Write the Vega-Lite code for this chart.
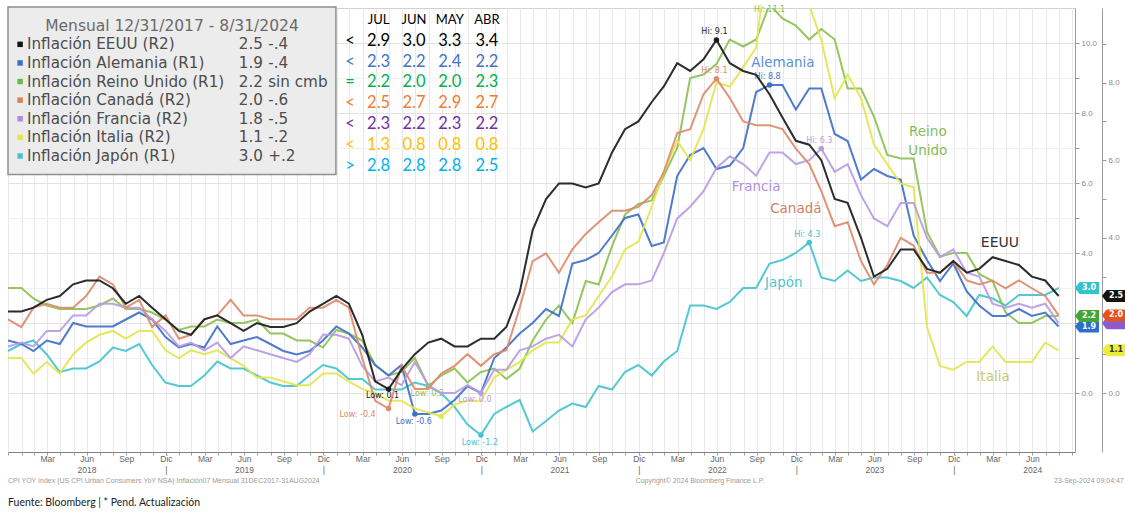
{
  "$schema": "https://vega.github.io/schema/vega-lite/v6.json",
  "width": 1067,
  "height": 444,
  "autosize": {"type": "none"},
  "padding": {"left": 8, "top": 8, "right": 50, "bottom": 62},
  "background": "#ffffff",
  "config": {"view": {"stroke": "#d0d0d0"}, "font": "DejaVu Sans"},
  "datasets": {
    "serie": [
      {"fecha":"2017-12-31","EEUU":2.1,"Alemania":1.5,"Reino Unido":3.0,"Canadá":1.9,"Francia":1.2,"Italia":0.9,"Japón":1.2},
      {"fecha":"2018-01-31","EEUU":2.1,"Alemania":1.4,"Reino Unido":3.0,"Canadá":1.7,"Francia":1.3,"Italia":0.9,"Japón":1.4},
      {"fecha":"2018-02-28","EEUU":2.2,"Alemania":1.2,"Reino Unido":2.7,"Canadá":2.2,"Francia":1.2,"Italia":0.5,"Japón":1.5},
      {"fecha":"2018-03-31","EEUU":2.4,"Alemania":1.5,"Reino Unido":2.5,"Canadá":2.3,"Francia":1.6,"Italia":0.8,"Japón":1.1},
      {"fecha":"2018-04-30","EEUU":2.5,"Alemania":1.4,"Reino Unido":2.4,"Canadá":2.2,"Francia":1.6,"Italia":0.5,"Japón":0.6},
      {"fecha":"2018-05-31","EEUU":2.8,"Alemania":2.0,"Reino Unido":2.4,"Canadá":2.2,"Francia":2.0,"Italia":1.0,"Japón":0.7},
      {"fecha":"2018-06-30","EEUU":2.9,"Alemania":1.9,"Reino Unido":2.4,"Canadá":2.5,"Francia":2.0,"Italia":1.3,"Japón":0.7},
      {"fecha":"2018-07-31","EEUU":2.9,"Alemania":1.9,"Reino Unido":2.5,"Canadá":3.0,"Francia":2.3,"Italia":1.5,"Japón":0.9},
      {"fecha":"2018-08-31","EEUU":2.7,"Alemania":1.9,"Reino Unido":2.7,"Canadá":2.8,"Francia":2.3,"Italia":1.6,"Japón":1.3},
      {"fecha":"2018-09-30","EEUU":2.3,"Alemania":2.1,"Reino Unido":2.4,"Canadá":2.2,"Francia":2.2,"Italia":1.4,"Japón":1.2},
      {"fecha":"2018-10-31","EEUU":2.5,"Alemania":2.3,"Reino Unido":2.4,"Canadá":2.4,"Francia":2.2,"Italia":1.6,"Japón":1.4},
      {"fecha":"2018-11-30","EEUU":2.2,"Alemania":2.1,"Reino Unido":2.3,"Canadá":1.7,"Francia":1.9,"Italia":1.6,"Japón":0.8},
      {"fecha":"2018-12-31","EEUU":1.9,"Alemania":1.6,"Reino Unido":2.1,"Canadá":2.0,"Francia":1.6,"Italia":1.1,"Japón":0.3},
      {"fecha":"2019-01-31","EEUU":1.6,"Alemania":1.3,"Reino Unido":1.8,"Canadá":1.4,"Francia":1.2,"Italia":0.9,"Japón":0.2},
      {"fecha":"2019-02-28","EEUU":1.5,"Alemania":1.4,"Reino Unido":1.9,"Canadá":1.5,"Francia":1.3,"Italia":1.1,"Japón":0.2},
      {"fecha":"2019-03-31","EEUU":1.9,"Alemania":1.3,"Reino Unido":1.9,"Canadá":1.9,"Francia":1.1,"Italia":1.0,"Japón":0.5},
      {"fecha":"2019-04-30","EEUU":2.0,"Alemania":1.9,"Reino Unido":2.1,"Canadá":2.0,"Francia":1.3,"Italia":1.1,"Japón":0.9},
      {"fecha":"2019-05-31","EEUU":1.8,"Alemania":1.4,"Reino Unido":2.0,"Canadá":2.4,"Francia":0.9,"Italia":0.9,"Japón":0.7},
      {"fecha":"2019-06-30","EEUU":1.6,"Alemania":1.5,"Reino Unido":2.0,"Canadá":2.0,"Francia":1.2,"Italia":0.7,"Japón":0.7},
      {"fecha":"2019-07-31","EEUU":1.8,"Alemania":1.6,"Reino Unido":2.1,"Canadá":2.0,"Francia":1.1,"Italia":0.4,"Japón":0.5},
      {"fecha":"2019-08-31","EEUU":1.7,"Alemania":1.4,"Reino Unido":1.7,"Canadá":1.9,"Francia":1.0,"Italia":0.4,"Japón":0.3},
      {"fecha":"2019-09-30","EEUU":1.7,"Alemania":1.2,"Reino Unido":1.7,"Canadá":1.9,"Francia":0.9,"Italia":0.3,"Japón":0.2},
      {"fecha":"2019-10-31","EEUU":1.8,"Alemania":1.1,"Reino Unido":1.5,"Canadá":1.9,"Francia":0.8,"Italia":0.2,"Japón":0.2},
      {"fecha":"2019-11-30","EEUU":2.1,"Alemania":1.2,"Reino Unido":1.5,"Canadá":2.2,"Francia":1.0,"Italia":0.2,"Japón":0.5},
      {"fecha":"2019-12-31","EEUU":2.3,"Alemania":1.5,"Reino Unido":1.3,"Canadá":2.2,"Francia":1.5,"Italia":0.5,"Japón":0.8},
      {"fecha":"2020-01-31","EEUU":2.5,"Alemania":1.9,"Reino Unido":1.8,"Canadá":2.4,"Francia":1.5,"Italia":0.5,"Japón":0.7},
      {"fecha":"2020-02-29","EEUU":2.3,"Alemania":1.7,"Reino Unido":1.7,"Canadá":2.2,"Francia":1.4,"Italia":0.3,"Japón":0.4},
      {"fecha":"2020-03-31","EEUU":1.5,"Alemania":1.3,"Reino Unido":1.5,"Canadá":0.9,"Francia":0.7,"Italia":0.1,"Japón":0.4},
      {"fecha":"2020-04-30","EEUU":0.3,"Alemania":0.8,"Reino Unido":0.8,"Canadá":-0.2,"Francia":0.3,"Italia":0.0,"Japón":0.1},
      {"fecha":"2020-05-31","EEUU":0.1,"Alemania":0.5,"Reino Unido":0.5,"Canadá":-0.4,"Francia":0.4,"Italia":-0.2,"Japón":0.1},
      {"fecha":"2020-06-30","EEUU":0.6,"Alemania":0.8,"Reino Unido":0.6,"Canadá":0.7,"Francia":0.2,"Italia":-0.2,"Japón":0.1},
      {"fecha":"2020-07-31","EEUU":1.0,"Alemania":-0.6,"Reino Unido":1.0,"Canadá":0.1,"Francia":0.8,"Italia":-0.4,"Japón":0.3},
      {"fecha":"2020-08-31","EEUU":1.3,"Alemania":-0.6,"Reino Unido":0.2,"Canadá":0.1,"Francia":0.2,"Italia":-0.5,"Japón":0.2},
      {"fecha":"2020-09-30","EEUU":1.4,"Alemania":-0.5,"Reino Unido":0.5,"Canadá":0.5,"Francia":0.0,"Italia":-0.6,"Japón":0.0},
      {"fecha":"2020-10-31","EEUU":1.2,"Alemania":-0.2,"Reino Unido":0.7,"Canadá":0.7,"Francia":0.0,"Italia":-0.3,"Japón":-0.4},
      {"fecha":"2020-11-30","EEUU":1.2,"Alemania":0.2,"Reino Unido":0.3,"Canadá":1.0,"Francia":0.2,"Italia":-0.2,"Japón":-0.9},
      {"fecha":"2020-12-31","EEUU":1.4,"Alemania":0.0,"Reino Unido":0.6,"Canadá":0.7,"Francia":0.0,"Italia":-0.2,"Japón":-1.2},
      {"fecha":"2021-01-31","EEUU":1.4,"Alemania":1.0,"Reino Unido":0.7,"Canadá":1.0,"Francia":0.6,"Italia":0.4,"Japón":-0.6},
      {"fecha":"2021-02-28","EEUU":1.7,"Alemania":1.3,"Reino Unido":0.4,"Canadá":1.1,"Francia":0.6,"Italia":0.6,"Japón":-0.4},
      {"fecha":"2021-03-31","EEUU":2.6,"Alemania":1.7,"Reino Unido":0.7,"Canadá":2.2,"Francia":1.1,"Italia":0.8,"Japón":-0.2},
      {"fecha":"2021-04-30","EEUU":4.2,"Alemania":2.0,"Reino Unido":1.5,"Canadá":3.4,"Francia":1.2,"Italia":1.1,"Japón":-1.1},
      {"fecha":"2021-05-31","EEUU":5.0,"Alemania":2.4,"Reino Unido":2.1,"Canadá":3.6,"Francia":1.4,"Italia":1.3,"Japón":-0.8},
      {"fecha":"2021-06-30","EEUU":5.4,"Alemania":2.2,"Reino Unido":2.5,"Canadá":3.1,"Francia":1.5,"Italia":1.3,"Japón":-0.5},
      {"fecha":"2021-07-31","EEUU":5.4,"Alemania":3.7,"Reino Unido":2.0,"Canadá":3.7,"Francia":1.2,"Italia":1.9,"Japón":-0.3},
      {"fecha":"2021-08-31","EEUU":5.3,"Alemania":3.8,"Reino Unido":3.2,"Canadá":4.1,"Francia":1.9,"Italia":2.0,"Japón":-0.4},
      {"fecha":"2021-09-30","EEUU":5.4,"Alemania":4.0,"Reino Unido":3.1,"Canadá":4.4,"Francia":2.2,"Italia":2.5,"Japón":0.2},
      {"fecha":"2021-10-31","EEUU":6.2,"Alemania":4.5,"Reino Unido":4.2,"Canadá":4.7,"Francia":2.6,"Italia":3.0,"Japón":0.1},
      {"fecha":"2021-11-30","EEUU":6.8,"Alemania":5.0,"Reino Unido":5.1,"Canadá":4.7,"Francia":2.8,"Italia":3.7,"Japón":0.6},
      {"fecha":"2021-12-31","EEUU":7.0,"Alemania":5.1,"Reino Unido":5.4,"Canadá":4.8,"Francia":2.8,"Italia":3.9,"Japón":0.8},
      {"fecha":"2022-01-31","EEUU":7.5,"Alemania":4.2,"Reino Unido":5.5,"Canadá":5.1,"Francia":2.9,"Italia":4.8,"Japón":0.5},
      {"fecha":"2022-02-28","EEUU":7.9,"Alemania":4.3,"Reino Unido":6.2,"Canadá":5.7,"Francia":3.6,"Italia":5.7,"Japón":0.9},
      {"fecha":"2022-03-31","EEUU":8.5,"Alemania":6.2,"Reino Unido":7.0,"Canadá":6.7,"Francia":4.5,"Italia":6.5,"Japón":1.2},
      {"fecha":"2022-04-30","EEUU":8.3,"Alemania":6.8,"Reino Unido":9.0,"Canadá":6.8,"Francia":4.8,"Italia":6.0,"Japón":2.5},
      {"fecha":"2022-05-31","EEUU":8.6,"Alemania":7.0,"Reino Unido":9.1,"Canadá":7.7,"Francia":5.2,"Italia":6.8,"Japón":2.5},
      {"fecha":"2022-06-30","EEUU":9.1,"Alemania":6.4,"Reino Unido":9.4,"Canadá":8.1,"Francia":5.8,"Italia":8.0,"Japón":2.4},
      {"fecha":"2022-07-31","EEUU":8.5,"Alemania":6.5,"Reino Unido":10.1,"Canadá":7.6,"Francia":6.1,"Italia":7.9,"Japón":2.6},
      {"fecha":"2022-08-31","EEUU":8.3,"Alemania":7.0,"Reino Unido":9.9,"Canadá":7.0,"Francia":5.9,"Italia":8.4,"Japón":3.0},
      {"fecha":"2022-09-30","EEUU":8.2,"Alemania":8.6,"Reino Unido":10.1,"Canadá":6.9,"Francia":5.6,"Italia":8.9,"Japón":3.0},
      {"fecha":"2022-10-31","EEUU":7.7,"Alemania":8.8,"Reino Unido":11.1,"Canadá":6.9,"Francia":6.2,"Italia":11.8,"Japón":3.7},
      {"fecha":"2022-11-30","EEUU":7.1,"Alemania":8.8,"Reino Unido":10.7,"Canadá":6.8,"Francia":6.2,"Italia":11.8,"Japón":3.8},
      {"fecha":"2022-12-31","EEUU":6.5,"Alemania":8.1,"Reino Unido":10.5,"Canadá":6.3,"Francia":5.9,"Italia":11.6,"Japón":4.0},
      {"fecha":"2023-01-31","EEUU":6.4,"Alemania":8.7,"Reino Unido":10.1,"Canadá":5.9,"Francia":6.0,"Italia":10.0,"Japón":4.3},
      {"fecha":"2023-02-28","EEUU":6.0,"Alemania":8.7,"Reino Unido":10.4,"Canadá":5.2,"Francia":6.3,"Italia":9.1,"Japón":3.3},
      {"fecha":"2023-03-31","EEUU":5.0,"Alemania":7.4,"Reino Unido":10.1,"Canadá":4.3,"Francia":5.7,"Italia":7.6,"Japón":3.2},
      {"fecha":"2023-04-30","EEUU":4.9,"Alemania":7.2,"Reino Unido":8.7,"Canadá":4.4,"Francia":5.9,"Italia":8.2,"Japón":3.5},
      {"fecha":"2023-05-31","EEUU":4.0,"Alemania":6.1,"Reino Unido":8.7,"Canadá":3.4,"Francia":5.1,"Italia":7.6,"Japón":3.2},
      {"fecha":"2023-06-30","EEUU":3.0,"Alemania":6.4,"Reino Unido":7.9,"Canadá":2.8,"Francia":4.5,"Italia":6.4,"Japón":3.3},
      {"fecha":"2023-07-31","EEUU":3.2,"Alemania":6.2,"Reino Unido":6.8,"Canadá":3.3,"Francia":4.3,"Italia":5.9,"Japón":3.3},
      {"fecha":"2023-08-31","EEUU":3.7,"Alemania":6.1,"Reino Unido":6.7,"Canadá":4.0,"Francia":4.9,"Italia":5.4,"Japón":3.2},
      {"fecha":"2023-09-30","EEUU":3.7,"Alemania":4.5,"Reino Unido":6.7,"Canadá":3.8,"Francia":4.9,"Italia":5.3,"Japón":3.0},
      {"fecha":"2023-10-31","EEUU":3.2,"Alemania":3.8,"Reino Unido":4.6,"Canadá":3.1,"Francia":4.0,"Italia":1.7,"Japón":3.3},
      {"fecha":"2023-11-30","EEUU":3.1,"Alemania":3.2,"Reino Unido":3.9,"Canadá":3.1,"Francia":3.5,"Italia":0.7,"Japón":2.8},
      {"fecha":"2023-12-31","EEUU":3.4,"Alemania":3.7,"Reino Unido":4.0,"Canadá":3.4,"Francia":3.7,"Italia":0.6,"Japón":2.6},
      {"fecha":"2024-01-31","EEUU":3.1,"Alemania":2.9,"Reino Unido":4.0,"Canadá":2.9,"Francia":3.1,"Italia":0.8,"Japón":2.2},
      {"fecha":"2024-02-29","EEUU":3.2,"Alemania":2.5,"Reino Unido":3.4,"Canadá":2.8,"Francia":3.0,"Italia":0.8,"Japón":2.8},
      {"fecha":"2024-03-31","EEUU":3.5,"Alemania":2.2,"Reino Unido":3.2,"Canadá":2.9,"Francia":2.3,"Italia":1.2,"Japón":2.7},
      {"fecha":"2024-04-30","EEUU":3.4,"Alemania":2.2,"Reino Unido":2.3,"Canadá":2.7,"Francia":2.2,"Italia":0.8,"Japón":2.5},
      {"fecha":"2024-05-31","EEUU":3.3,"Alemania":2.4,"Reino Unido":2.0,"Canadá":2.9,"Francia":2.3,"Italia":0.8,"Japón":2.8},
      {"fecha":"2024-06-30","EEUU":3.0,"Alemania":2.2,"Reino Unido":2.0,"Canadá":2.7,"Francia":2.2,"Italia":0.8,"Japón":2.8},
      {"fecha":"2024-07-31","EEUU":2.9,"Alemania":2.3,"Reino Unido":2.2,"Canadá":2.5,"Francia":2.3,"Italia":1.3,"Japón":2.8},
      {"fecha":"2024-08-31","EEUU":2.5,"Alemania":1.9,"Reino Unido":2.2,"Canadá":2.0,"Francia":1.8,"Italia":1.1,"Japón":3.0}
    ],
    "extremos": [
      {"serie":"EEUU","eje":"R2","tipo":"hi","fecha":"2022-06-30","v":9.1,"etiqueta":"Hi: 9.1"},
      {"serie":"Canadá","eje":"R2","tipo":"hi","fecha":"2022-06-30","v":8.1,"etiqueta":"Hi: 8.1"},
      {"serie":"Francia","eje":"R2","tipo":"hi","fecha":"2023-02-28","v":6.3,"etiqueta":"Hi: 6.3"},
      {"serie":"Alemania","eje":"R1","tipo":"hi","fecha":"2022-10-31","v":8.8,"etiqueta":"Hi: 8.8"},
      {"serie":"Reino Unido","eje":"R1","tipo":"hi","fecha":"2022-10-31","v":11.1,"etiqueta":"Hi: 11.1"},
      {"serie":"Japón","eje":"R1","tipo":"hi","fecha":"2023-01-31","v":4.3,"etiqueta":"Hi: 4.3"},
      {"serie":"EEUU","eje":"R2","tipo":"low","fecha":"2020-05-31","v":0.1,"etiqueta":"Low: 0.1"},
      {"serie":"Canadá","eje":"R2","tipo":"low","fecha":"2020-05-31","v":-0.4,"etiqueta":"Low: -0.4"},
      {"serie":"Francia","eje":"R2","tipo":"low","fecha":"2020-12-31","v":0.0,"etiqueta":"Low: 0.0"},
      {"serie":"Italia","eje":"R2","tipo":"low","fecha":"2020-09-30","v":-0.6,"etiqueta":"Low: -0.6"},
      {"serie":"Alemania","eje":"R1","tipo":"low","fecha":"2020-07-31","v":-0.6,"etiqueta":"Low: -0.6"},
      {"serie":"Reino Unido","eje":"R1","tipo":"low","fecha":"2020-08-31","v":0.2,"etiqueta":"Low: 0.2"},
      {"serie":"Japón","eje":"R1","tipo":"low","fecha":"2020-12-31","v":-1.2,"etiqueta":"Low: -1.2"}
    ],
    "leyenda": [
      {"serie":"EEUU","etiqueta":"Inflación EEUU (R2)","ultimo":2.5,"cambio":"-.4","eje":"R2"},
      {"serie":"Alemania","etiqueta":"Inflación Alemania (R1)","ultimo":1.9,"cambio":"-.4","eje":"R1"},
      {"serie":"Reino Unido","etiqueta":"Inflación Reino Unido (R1)","ultimo":2.2,"cambio":"sin cmb","eje":"R1"},
      {"serie":"Canadá","etiqueta":"Inflación Canadá (R2)","ultimo":2.0,"cambio":"-.6","eje":"R2"},
      {"serie":"Francia","etiqueta":"Inflación Francia (R2)","ultimo":1.8,"cambio":"-.5","eje":"R2"},
      {"serie":"Italia","etiqueta":"Inflación Italia (R2)","ultimo":1.1,"cambio":"-.2","eje":"R2"},
      {"serie":"Japón","etiqueta":"Inflación Japón (R1)","ultimo":3.0,"cambio":"+.2","eje":"R1"}
    ],
    "tabla": [
      {"serie":"hdr","sim":"","jul":"JUL","jun":"JUN","may":"MAY","abr":"ABR"},
      {"serie":"EEUU","sim":"<","jul":"2.9","jun":"3.0","may":"3.3","abr":"3.4"},
      {"serie":"Alemania","sim":"<","jul":"2.3","jun":"2.2","may":"2.4","abr":"2.2"},
      {"serie":"Reino Unido","sim":"=","jul":"2.2","jun":"2.0","may":"2.0","abr":"2.3"},
      {"serie":"Canadá","sim":"<","jul":"2.5","jun":"2.7","may":"2.9","abr":"2.7"},
      {"serie":"Francia","sim":"<","jul":"2.3","jun":"2.2","may":"2.3","abr":"2.2"},
      {"serie":"Italia","sim":"<","jul":"1.3","jun":"0.8","may":"0.8","abr":"0.8"},
      {"serie":"Japón","sim":">","jul":"2.8","jun":"2.8","may":"2.8","abr":"2.5"}
    ]
  },
  "resolve": {"scale": {"y": "independent", "color": "independent", "fill": "independent"}, "axis": {"y": "independent"}},
  "layer": [
    {
      "layer": [
        {
          "data": {"name": "serie"},
          "transform": [{"fold": ["Japón", "Reino Unido", "Alemania"], "as": ["serie", "v"]}],
          "mark": {"type": "line", "strokeWidth": 2, "clip": true, "opacity": 0.92},
          "encoding": {
            "x": {"field": "fecha", "type": "temporal",
              "scale": {"domain": [{"year": 2017, "month": 12, "date": 31}, {"year": 2024, "month": 10, "date": 8}]},
              "axis": {"title": null, "tickCount": {"interval": "month", "step": 1}, "grid": true, "gridColor": "#e8e8e8",
                "domainColor": "#808080", "tickColor": "#a0a0a0", "tickSize": 3,
                "labelExpr": "month(datum.value) == 3 ? 'Mar' : month(datum.value) == 6 ? ['Jun', '' + year(datum.value)] : (month(datum.value) == 9 && year(datum.value) < 2024) ? 'Sep' : (month(datum.value) == 0 && year(datum.value) > 2018) ? ['Dic', '|'] : ''",
                "labelFont": "Liberation Sans", "labelFontSize": 8.5, "labelColor": "#666666", "labelOverlap": false,
                "labelPadding": -1, "labelLineHeight": 11, "labelFlush": false, "labelBound": false, "labelAlign": "center", "labelBaseline": "top"}},
            "y": {"field": "v", "type": "quantitative",
              "scale": {"domain": [-1.6857, 11], "nice": false, "zero": false},
              "axis": {"orient": "right", "title": null, "values": [0, 1, 2, 3, 4, 5, 6, 7, 8, 9, 10],
                "labelExpr": "(datum.value % 2 == 0 && datum.value != 2) ? format(datum.value, '.1f') : ''",
                "grid": true, "gridColor": {"condition": {"test": "datum.value % 2 == 0", "value": "#e2e2e2"}, "value": "#f1f1f1"},
                "domainColor": "#9a9a9a", "tickColor": "#9a9a9a", "tickSize": 4,
                "labelFont": "Liberation Sans", "labelFontSize": 8, "labelColor": "#8a8a8a", "labelPadding": 2}},
            "color": {"field": "serie", "type": "nominal",
              "scale": {"domain": ["EEUU", "Alemania", "Reino Unido", "Canadá", "Francia", "Italia", "Japón"],
                "range": ["#1a1a1a", "#3f70c8", "#8cc152", "#dc8b6b", "#b89be4", "#e3e64e", "#45c3cf"]},
              "legend": null}
          }
        },
        {
          "data": {"name": "extremos"},
          "transform": [{"filter": "datum.eje == 'R1'"}],
          "mark": {"type": "point", "filled": true, "size": 30, "opacity": 1, "clip": true},
          "encoding": {
            "x": {"field": "fecha", "type": "temporal"},
            "y": {"field": "v", "type": "quantitative"},
            "color": {"field": "serie", "type": "nominal", "legend": null}
          }
        },
        {
          "data": {"name": "extremos"},
          "transform": [{"filter": "datum.eje == 'R1' && datum.tipo == 'hi' && datum.serie != 'Reino Unido'"}],
          "mark": {"type": "text", "fontSize": 8, "dy": -8, "dx": -2, "font": "DejaVu Sans"},
          "encoding": {
            "x": {"field": "fecha", "type": "temporal"},
            "y": {"field": "v", "type": "quantitative"},
            "text": {"field": "etiqueta"},
            "color": {"field": "serie", "type": "nominal", "legend": null}
          }
        },
        {
          "data": {"name": "extremos"},
          "transform": [{"filter": "datum.eje == 'R1' && datum.tipo == 'hi' && datum.serie == 'Reino Unido'"}],
          "mark": {"type": "text", "fontSize": 8, "dy": 6, "font": "DejaVu Sans"},
          "encoding": {
            "x": {"field": "fecha", "type": "temporal"},
            "y": {"field": "v", "type": "quantitative"},
            "text": {"field": "etiqueta"},
            "color": {"field": "serie", "type": "nominal", "legend": null}
          }
        },
        {
          "data": {"name": "extremos"},
          "transform": [{"filter": "datum.eje == 'R1' && datum.tipo == 'low'"}],
          "mark": {"type": "text", "fontSize": 8, "dy": 8, "dx": -1, "font": "DejaVu Sans"},
          "encoding": {
            "x": {"field": "fecha", "type": "temporal"},
            "y": {"field": "v", "type": "quantitative"},
            "text": {"field": "etiqueta"},
            "color": {"field": "serie", "type": "nominal", "legend": null}
          }
        },
        {
          "data": {"name": "leyenda"},
          "transform": [{"filter": "datum.eje == 'R1'"}],
          "mark": {"type": "point", "shape": "M-1,0L-0.62,-0.5L1,-0.5L1,0.5L-0.62,0.5Z", "filled": true, "size": 576, "opacity": 1, "xOffset": 12, "strokeWidth": 0},
          "encoding": {
            "x": {"datum": {"year": 2024, "month": 10, "date": 8}},
            "y": {"field": "ultimo", "type": "quantitative"},
            "fill": {"field": "serie", "type": "nominal",
              "scale": {"domain": ["EEUU", "Alemania", "Reino Unido", "Canadá", "Francia", "Italia", "Japón"],
                "range": ["#141414", "#2e6dd0", "#44a735", "#e8521f", "#8d5ccc", "#ecec3c", "#33c3cc"]},
              "legend": null},
            "order": {"field": "ultimo", "sort": "ascending"}
          }
        },
        {
          "data": {"name": "leyenda"},
          "transform": [{"filter": "datum.eje == 'R1'"}],
          "mark": {"type": "text", "xOffset": 14, "fontSize": 8, "fontWeight": "bold", "font": "DejaVu Sans", "align": "center", "baseline": "middle"},
          "encoding": {
            "x": {"datum": {"year": 2024, "month": 10, "date": 8}},
            "y": {"field": "ultimo", "type": "quantitative"},
            "text": {"field": "ultimo", "format": ".1f"},
            "color": {"value": "#ffffff"}
          }
        },
        {
          "data": {"values": [{}]},
          "mark": {"type": "text", "text": "Alemania", "font": "DejaVu Sans", "fontSize": 13.5, "color": "#5a8fd8", "align": "center", "baseline": "middle"},
          "encoding": {"x": {"datum": {"year": 2022, "month": 12, "date": 1}}, "y": {"datum": 9.43}}
        },
        {
          "data": {"values": [{}]},
          "mark": {"type": "text", "text": ["Reino", "Unido"], "lineHeight": 19, "font": "DejaVu Sans", "fontSize": 13.5, "color": "#86bb58", "align": "center", "baseline": "middle"},
          "encoding": {"x": {"datum": {"year": 2023, "month": 11, "date": 2}}, "y": {"datum": 7.47}}
        },
        {
          "data": {"values": [{}]},
          "mark": {"type": "text", "text": "Francia", "font": "DejaVu Sans", "fontSize": 13.5, "color": "#b08fe0", "align": "center", "baseline": "middle"},
          "encoding": {"x": {"datum": {"year": 2022, "month": 9, "date": 30}}, "y": {"datum": 5.886}}
        },
        {
          "data": {"values": [{}]},
          "mark": {"type": "text", "text": "Canadá", "font": "DejaVu Sans", "fontSize": 13.5, "color": "#d0825f", "align": "center", "baseline": "middle"},
          "encoding": {"x": {"datum": {"year": 2022, "month": 12, "date": 31}}, "y": {"datum": 5.257}}
        },
        {
          "data": {"values": [{}]},
          "mark": {"type": "text", "text": "Japón", "font": "DejaVu Sans", "fontSize": 13.5, "color": "#4fc6d6", "align": "center", "baseline": "middle"},
          "encoding": {"x": {"datum": {"year": 2022, "month": 12, "date": 3}}, "y": {"datum": 3.143}}
        },
        {
          "data": {"values": [{}]},
          "mark": {"type": "text", "text": "EEUU", "font": "DejaVu Sans", "fontSize": 14, "color": "#333333", "align": "center", "baseline": "middle"},
          "encoding": {"x": {"datum": {"year": 2024, "month": 4, "date": 17}}, "y": {"datum": 4.286}}
        },
        {
          "data": {"values": [{}]},
          "mark": {"type": "text", "text": "Italia", "font": "DejaVu Sans", "fontSize": 13.5, "color": "#c9c96b", "align": "center", "baseline": "middle"},
          "encoding": {"x": {"datum": {"year": 2024, "month": 4, "date": 1}}, "y": {"datum": 0.457}}
        },
        {
          "data": {"values": [{}]},
          "mark": {"type": "text", "text": "CPI YOY Index (US CPI Urban Consumers YoY NSA) Inflación07    Mensual 31DEC2017-31AUG2024", "font": "Liberation Sans", "fontSize": 7, "color": "#9a9a9a", "align": "left", "baseline": "middle"},
          "encoding": {"x": {"datum": {"year": 2017, "month": 12, "date": 31}}, "y": {"datum": -2.514}}
        },
        {
          "data": {"values": [{}]},
          "mark": {"type": "text", "text": "Copyright© 2024 Bloomberg Finance L.P.", "font": "Liberation Sans", "fontSize": 7, "color": "#9a9a9a", "align": "center", "baseline": "middle"},
          "encoding": {"x": {"datum": {"year": 2022, "month": 5, "date": 23}}, "y": {"datum": -2.514}}
        },
        {
          "data": {"values": [{}]},
          "mark": {"type": "text", "text": "23-Sep-2024 09:04:47", "font": "Liberation Sans", "fontSize": 7, "color": "#9a9a9a", "align": "right", "baseline": "middle"},
          "encoding": {"x": {"datum": {"year": 2025, "month": 1, "date": 29}}, "y": {"datum": -2.514}}
        },
        {
          "data": {"values": [{}]},
          "mark": {"type": "text", "text": "Fuente: Bloomberg | * Pend. Actualización", "font": "Lato", "fontSize": 10.5, "color": "#222222", "align": "left", "baseline": "middle"},
          "encoding": {"x": {"datum": {"year": 2017, "month": 12, "date": 31}}, "y": {"datum": -3.143}}
        }
      ]
    },
    {
      "layer": [
        {
          "data": {"name": "serie"},
          "transform": [{"fold": ["Italia", "Francia", "Canadá", "EEUU"], "as": ["serie", "v"]}],
          "mark": {"type": "line", "strokeWidth": 2, "clip": true, "opacity": 0.92},
          "encoding": {
            "x": {"field": "fecha", "type": "temporal",
              "scale": {"domain": [{"year": 2017, "month": 12, "date": 31}, {"year": 2024, "month": 10, "date": 8}]}},
            "y": {"field": "v", "type": "quantitative",
              "scale": {"domain": [-1.5206, 9.9227], "nice": false, "zero": false},
              "axis": {"orient": "right", "offset": 27, "title": null, "values": [0, 1, 2, 3, 4, 5, 6, 7, 8, 9],
                "labelExpr": "(datum.value % 2 == 0 && datum.value != 2) ? format(datum.value, '.1f') : ''",
                "grid": false, "domainColor": "#9a9a9a", "tickColor": "#9a9a9a", "tickSize": 4,
                "labelFont": "Liberation Sans", "labelFontSize": 8, "labelColor": "#8a8a8a", "labelPadding": 2}},
            "color": {"field": "serie", "type": "nominal",
              "scale": {"domain": ["EEUU", "Alemania", "Reino Unido", "Canadá", "Francia", "Italia", "Japón"],
                "range": ["#1a1a1a", "#3f70c8", "#8cc152", "#dc8b6b", "#b89be4", "#e3e64e", "#45c3cf"]},
              "legend": null}
          }
        },
        {
          "data": {"name": "extremos"},
          "transform": [{"filter": "datum.eje == 'R2'"}],
          "mark": {"type": "point", "filled": true, "size": 30, "opacity": 1, "clip": true},
          "encoding": {
            "x": {"field": "fecha", "type": "temporal"},
            "y": {"field": "v", "type": "quantitative"},
            "color": {"field": "serie", "type": "nominal", "legend": null}
          }
        },
        {
          "data": {"name": "extremos"},
          "transform": [{"filter": "datum.eje == 'R2' && datum.tipo == 'hi'"}],
          "mark": {"type": "text", "fontSize": 8, "dy": -8, "dx": -2, "font": "DejaVu Sans"},
          "encoding": {
            "x": {"field": "fecha", "type": "temporal"},
            "y": {"field": "v", "type": "quantitative"},
            "text": {"field": "etiqueta"},
            "color": {"field": "serie", "type": "nominal", "legend": null}
          }
        },
        {
          "data": {"name": "extremos"},
          "transform": [{"filter": "datum.eje == 'R2' && datum.tipo == 'low' && (datum.serie == 'EEUU' || datum.serie == 'Francia')"}],
          "mark": {"type": "text", "fontSize": 8, "dy": 7, "dx": -6, "font": "DejaVu Sans"},
          "encoding": {
            "x": {"field": "fecha", "type": "temporal"},
            "y": {"field": "v", "type": "quantitative"},
            "text": {"field": "etiqueta"},
            "color": {"field": "serie", "type": "nominal", "legend": null}
          }
        },
        {
          "data": {"name": "extremos"},
          "transform": [{"filter": "datum.eje == 'R2' && datum.tipo == 'low' && datum.serie == 'Canadá'"}],
          "mark": {"type": "text", "fontSize": 8, "dy": 6, "dx": -31, "font": "DejaVu Sans"},
          "encoding": {
            "x": {"field": "fecha", "type": "temporal"},
            "y": {"field": "v", "type": "quantitative"},
            "text": {"field": "etiqueta"},
            "color": {"field": "serie", "type": "nominal", "legend": null}
          }
        },
        {
          "data": {"name": "leyenda"},
          "transform": [{"filter": "datum.eje == 'R2'"}],
          "mark": {"type": "point", "shape": "M-1,0L-0.62,-0.5L1,-0.5L1,0.5L-0.62,0.5Z", "filled": true, "size": 576, "opacity": 1, "xOffset": 39, "strokeWidth": 0},
          "encoding": {
            "x": {"datum": {"year": 2024, "month": 10, "date": 8}},
            "y": {"field": "ultimo", "type": "quantitative"},
            "fill": {"field": "serie", "type": "nominal",
              "scale": {"domain": ["EEUU", "Alemania", "Reino Unido", "Canadá", "Francia", "Italia", "Japón"],
                "range": ["#141414", "#2e6dd0", "#44a735", "#e8521f", "#8d5ccc", "#ecec3c", "#33c3cc"]},
              "legend": null},
            "order": {"field": "ultimo", "sort": "ascending"}
          }
        },
        {
          "data": {"name": "leyenda"},
          "transform": [{"filter": "datum.eje == 'R2' && datum.serie != 'Francia'"}],
          "mark": {"type": "text", "xOffset": 41, "fontSize": 8, "fontWeight": "bold", "font": "DejaVu Sans", "align": "center", "baseline": "middle"},
          "encoding": {
            "x": {"datum": {"year": 2024, "month": 10, "date": 8}},
            "y": {"field": "ultimo", "type": "quantitative"},
            "text": {"field": "ultimo", "format": ".1f"},
            "color": {"condition": {"test": "datum.serie == 'Italia'", "value": "#333333"}, "value": "#ffffff"}
          }
        }
      ]
    },
    {
      "data": {"name": "leyenda"},
      "encoding": {
        "y": {"field": "serie", "type": "nominal",
          "scale": {"type": "point", "padding": 0, "domain": ["sup", "tit", "EEUU", "Alemania", "Reino Unido", "Canadá", "Francia", "Italia", "Japón", "inf"], "range": [-0.9, 166.6]},
          "axis": null}
      },
      "layer": [
        {
          "data": {"values": [{}]},
          "mark": {"type": "rect", "fill": "#ececec", "stroke": "#8f8f8f", "strokeWidth": 1.5},
          "encoding": {
            "x": {"datum": {"year": 2017, "month": 12, "date": 31}},
            "x2": {"datum": {"year": 2020, "month": 1, "date": 30}},
            "y": {"datum": "sup", "axis": null},
            "y2": {"datum": "inf"}
          }
        },
        {
          "data": {"values": [{}]},
          "mark": {"type": "text", "text": "Mensual 12/31/2017 - 8/31/2024", "font": "DejaVu Sans", "fontSize": 15.5, "color": "#6a6a6a", "align": "center", "baseline": "middle"},
          "encoding": {
            "x": {"datum": {"year": 2019, "month": 1, "date": 15}},
            "y": {"datum": "tit", "axis": null}
          }
        },
        {
          "mark": {"type": "point", "shape": "square", "filled": true, "size": 30, "opacity": 1},
          "encoding": {
            "x": {"datum": {"year": 2018, "month": 1, "date": 28}},
            "color": {"field": "serie", "type": "nominal",
              "scale": {"domain": ["EEUU", "Alemania", "Reino Unido", "Canadá", "Francia", "Italia", "Japón"],
                "range": ["#111111", "#3f70c8", "#6fb64a", "#dc7f52", "#a98be2", "#e3e64e", "#45c3cf"]},
              "legend": null}
          }
        },
        {
          "mark": {"type": "text", "font": "DejaVu Sans", "fontSize": 15.2, "color": "#4d4d4d", "align": "left", "baseline": "middle"},
          "encoding": {
            "x": {"datum": {"year": 2018, "month": 2, "date": 13}},
            "text": {"field": "etiqueta"}
          }
        },
        {
          "mark": {"type": "text", "font": "DejaVu Sans", "fontSize": 15.2, "color": "#4d4d4d", "align": "left", "baseline": "middle"},
          "encoding": {
            "x": {"datum": {"year": 2019, "month": 6, "date": 19}},
            "text": {"field": "ultimo", "format": ".1f"}
          }
        },
        {
          "mark": {"type": "text", "font": "DejaVu Sans", "fontSize": 15.2, "color": "#4d4d4d", "align": "left", "baseline": "middle"},
          "encoding": {
            "x": {"datum": {"year": 2019, "month": 8, "date": 26}},
            "text": {"field": "cambio"}
          }
        }
      ]
    },
    {
      "data": {"name": "tabla"},
      "encoding": {
        "y": {"field": "serie", "type": "nominal",
          "scale": {"type": "point", "padding": 0, "domain": ["hdr", "EEUU", "Alemania", "Reino Unido", "Canadá", "Francia", "Italia", "Japón"], "range": [12, 157.7]},
          "axis": null},
        "color": {"field": "serie", "type": "nominal",
          "scale": {"domain": ["hdr", "EEUU", "Alemania", "Reino Unido", "Canadá", "Francia", "Italia", "Japón"],
            "range": ["#000000", "#000000", "#4472c4", "#00b050", "#ed7d31", "#7030a0", "#ffc000", "#00b0f0"]},
          "legend": null},
        "size": {"condition": {"test": "datum.serie == 'hdr'", "value": 13}, "value": 16.5}
      },
      "layer": [
        {
          "mark": {"type": "text", "font": "Lato", "align": "center", "baseline": "middle"},
          "encoding": {"x": {"datum": {"year": 2020, "month": 3, "date": 3}}, "text": {"field": "sim"}}
        },
        {
          "mark": {"type": "text", "font": "Lato", "align": "center", "baseline": "middle"},
          "encoding": {"x": {"datum": {"year": 2020, "month": 5, "date": 8}}, "text": {"field": "jul"}}
        },
        {
          "mark": {"type": "text", "font": "Lato", "align": "center", "baseline": "middle"},
          "encoding": {"x": {"datum": {"year": 2020, "month": 7, "date": 29}}, "text": {"field": "jun"}}
        },
        {
          "mark": {"type": "text", "font": "Lato", "align": "center", "baseline": "middle"},
          "encoding": {"x": {"datum": {"year": 2020, "month": 10, "date": 20}}, "text": {"field": "may"}}
        },
        {
          "mark": {"type": "text", "font": "Lato", "align": "center", "baseline": "middle"},
          "encoding": {"x": {"datum": {"year": 2021, "month": 1, "date": 14}}, "text": {"field": "abr"}}
        }
      ]
    }
  ]
}
